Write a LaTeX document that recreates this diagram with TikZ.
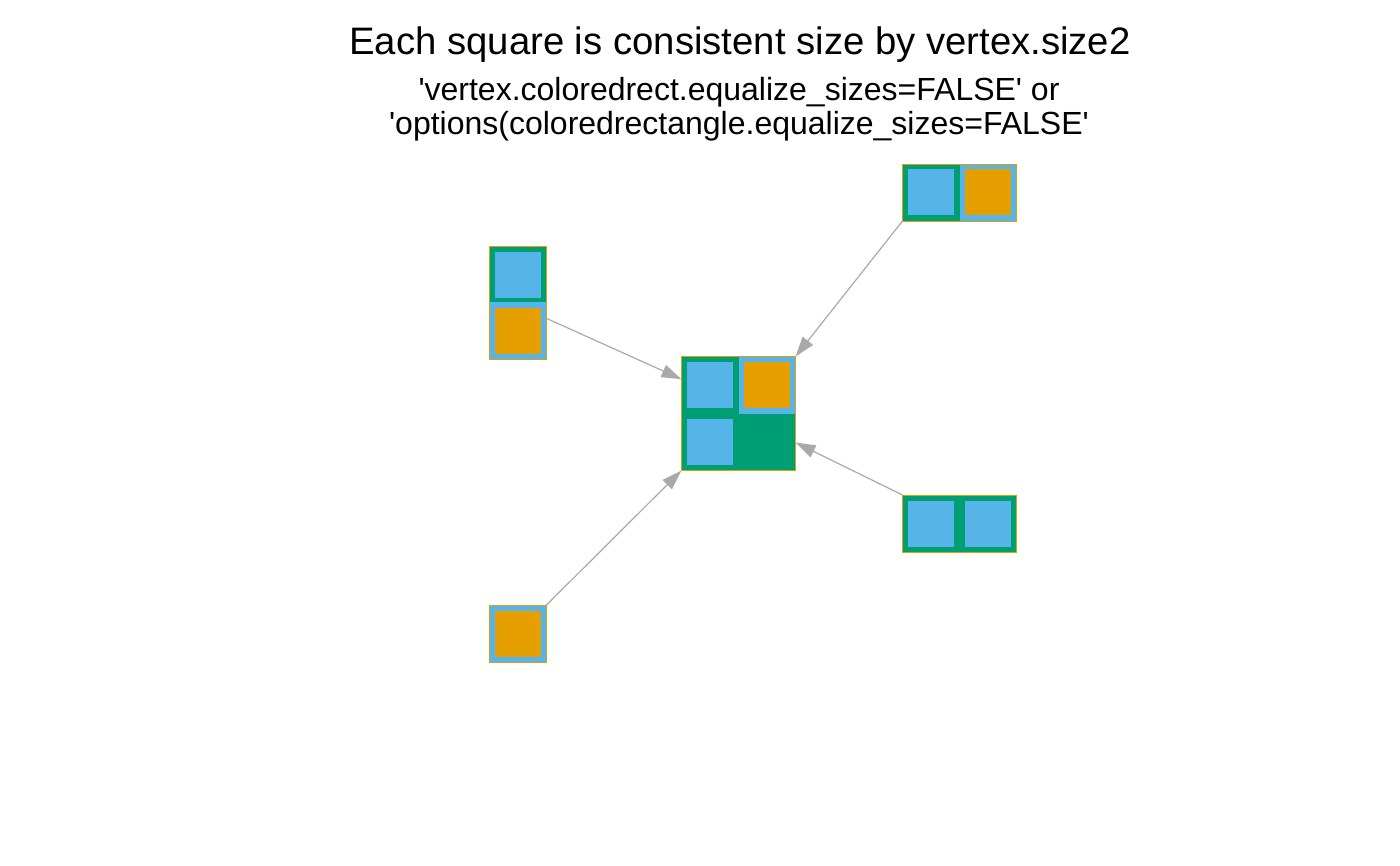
\documentclass[tikz,border=0pt]{standalone}
\usepackage{fontspec}
\setmainfont{Liberation Sans}
\usetikzlibrary{arrows.meta}

\definecolor{okgreen}{HTML}{009E73}
\definecolor{okblue}{HTML}{56B4E9}
\definecolor{okorange}{HTML}{E69F00}
\definecolor{linkgray}{HTML}{A9A9A9}

\tikzset{
    cell/.style={minimum size=57pt, inner sep=0pt, outer sep=0pt, fill=#1},
    core/.style={minimum size=46pt, inner sep=0pt, outer sep=0pt, fill=#1},
    vbox/.style={draw=okorange, line width=0.4pt, inner sep=0pt, outer sep=0pt},
    link/.style={draw=linkgray, line width=1.2pt, -{Triangle[length=20pt,width=13pt]}},
}

\begin{document}
\begin{tikzpicture}[x=1pt, y=-1pt]
    \useasboundingbox (0,0) rectangle (1400,866);
    % titles
    \node[anchor=base, inner sep=0pt] (title) at (740,55) {\fontsize{38.3}{46}\selectfont Each square is consistent size by vertex.size2};
    \node[anchor=base, inner sep=0pt] (subone) at (739,101) {\fontsize{32}{38}\selectfont \textquotesingle vertex.coloredrect.equalize\_sizes=FALSE\textquotesingle{} or};
    \node[anchor=base, inner sep=0pt] (subtwo) at (739,135) {\fontsize{32}{38}\selectfont \textquotesingle options(coloredrectangle.equalize\_sizes=FALSE\textquotesingle};
    % cells: x/y/frame/core
    \foreach \x/\y/\f/\c in {517.5/275/okgreen/okblue, 517.5/331/okblue/okorange,
            931/192.5/okgreen/okblue, 988/192.5/okblue/okorange,
            931/523.5/okgreen/okblue, 988/523.5/okgreen/okblue,
            517.5/634/okblue/okorange,
            710/385/okgreen/okblue, 767/385/okblue/okorange,
            710/442/okgreen/okblue, 767/442/okgreen/okgreen}
        {\node[cell=\f] at (\x,\y) {};
         \node[core=\c] at (\x,\y) {};}
    % vertices
    \node[vbox, minimum width=57pt, minimum height=113pt] (tl) at (517.5,303) {};
    \node[vbox, minimum width=114pt, minimum height=57pt] (tr) at (959.5,192.5) {};
    \node[vbox, minimum width=114pt, minimum height=57pt] (rt) at (959.5,523.5) {};
    \node[vbox, minimum width=57pt, minimum height=57pt] (bl) at (517.5,634) {};
    \node[vbox, line width=1.3pt, minimum width=114pt, minimum height=114pt] (ctr) at (738.5,413.5) {};
    % edges
    \draw[link] (tl.-28) -- (ctr.149.5);
    \draw[link] (tr.south west) -- (ctr.north east);
    \draw[link] (rt.north west) -- (ctr.-27);
    \draw[link] (bl.north east) -- (ctr.south west);
\end{tikzpicture}
\end{document}
